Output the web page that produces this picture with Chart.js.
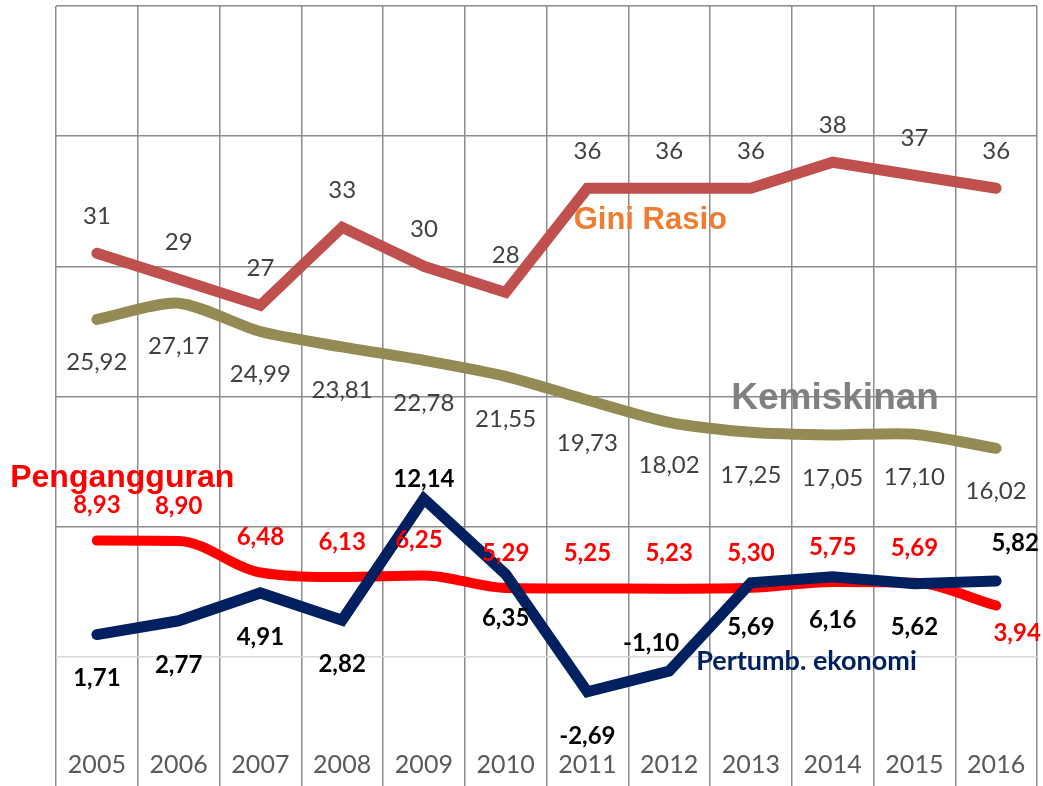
<!DOCTYPE html>
<html>
<head>
<meta charset="utf-8">
<script src="https://cdn.jsdelivr.net/npm/chart.js@4.4.1/dist/chart.umd.min.js"></script>
<style>
html,body{margin:0;padding:0;background:#ffffff;overflow:hidden;}
#wrap{width:1043px;height:800px;position:relative;}
</style>
</head>
<body>
<div id="wrap"><canvas id="c" width="1043" height="800"></canvas></div>
<script>
// ---- data ----
const years = ['2005','2006','2007','2008','2009','2010','2011','2012','2013','2014','2015','2016'];
const giniRasio = [31, 29, 27, 33, 30, 28, 36, 36, 36, 38, 37, 36];
const kemiskinan = [25.92, 27.17, 24.99, 23.81, 22.78, 21.55, 19.73, 18.02, 17.25, 17.05, 17.10, 16.02];
const pengangguran = [8.93, 8.90, 6.48, 6.13, 6.25, 5.29, 5.25, 5.23, 5.30, 5.75, 5.69, 3.94];
const pertumbEkonomi = [1.71, 2.77, 4.91, 2.82, 12.14, 6.35, -2.69, -1.10, 5.69, 6.16, 5.62, 5.82];
const yTicks = [-10, 0, 10, 20, 30, 40, 50];
const seriesNames = ['Pertumb. ekonomi', 'Pengangguran', 'Kemiskinan', 'Gini Rasio'];

// ---- label styling (offsets in px from each point) ----
const fmt2 = v => v.toFixed(2).replace('.', ',');
const fmt0 = v => String(v);
const labelStyles = [
  { font: 'bold 24px Lato', color: '#000000', fmt: fmt2,
    dx: [0,0,0,0,0,0,0,-18,0,0,0,19],
    dy: [44,44,44,44,-20,44,44,-28,44,44,44,-38] },
  { font: 'bold 24px Lato', color: '#ff0000', fmt: fmt2,
    dx: [0,0,0,0,-5,0,0,0,0,0,0,21],
    dy: [-35,-35,-35,-35,-35,-35,-35,-35,-35,-35,-35,28] },
  { font: '24px Lato', color: '#404040', fmt: fmt2,
    dx: [0,0,0,0,0,0,0,0,0,0,0,0],
    dy: [43,43,43,43,43,43,43,43,43,43,43,43] },
  { font: '24px Lato', color: '#404040', fmt: fmt0,
    dx: [0,0,0,0,0,0,0,0,0,0,0,0],
    dy: [-37,-37,-37,-37,-37,-37,-37,-37,-37,-37,-37,-37] }
];
const nameStyles = [
  { font: 'bold 27px Lato', color: '#002060', x: 8.68, y: -0.33 },
  { font: 'bold 32px "Liberation Sans"', color: '#ff0000', x: 0.31, y: 13.75 },
  { font: 'bold 37px "Liberation Sans"', color: '#808080', x: 9.03, y: 19.8 },
  { font: 'bold 31px "Liberation Sans"', color: '#ED7D31', x: 6.77, y: 33.5 }
];

const labelPlugin = {
  id: 'customLabels',
  afterDatasetsDraw(chart) {
    const ctx = chart.ctx;
    const xs = chart.scales.x, ys = chart.scales.y;
    ctx.save();
    ctx.textAlign = 'center';
    ctx.textBaseline = 'middle';
    // category labels
    ctx.font = '25px Lato';
    ctx.fillStyle = '#595959';
    years.forEach((yr, i) => {
      ctx.fillText(yr, xs.getPixelForValue(i), ys.getPixelForValue(-8.33));
    });
    // series names
    nameStyles.forEach((s, i) => {
      ctx.font = s.font;
      ctx.fillStyle = s.color;
      ctx.fillText(seriesNames[i], xs.getPixelForValue(s.x), ys.getPixelForValue(s.y));
    });
    // data labels
    chart.data.datasets.forEach((ds, di) => {
      const L = labelStyles[di];
      ctx.font = L.font;
      ctx.fillStyle = L.color;
      ds.data.forEach((v, i) => {
        const x = xs.getPixelForValue(i) + L.dx[i];
        const y = ys.getPixelForValue(v) + L.dy[i];
        ctx.fillText(L.fmt(v), x, y);
      });
    });
    ctx.restore();
  }
};

const common = { pointRadius: 0, pointHoverRadius: 0, borderCapStyle: 'round', fill: false, clip: false };

new Chart(document.getElementById('c'), {
  type: 'line',
  data: {
    labels: years,
    datasets: [
      Object.assign({}, common, { label: seriesNames[0], data: pertumbEkonomi, borderColor: '#002060', borderWidth: 11, tension: 0, borderJoinStyle: 'miter', order: 0 }),
      Object.assign({}, common, { label: seriesNames[1], data: pengangguran, borderColor: '#ff0000', borderWidth: 10, tension: 0.25, cubicInterpolationMode: 'monotone', borderJoinStyle: 'round', order: 1 }),
      Object.assign({}, common, { label: seriesNames[2], data: kemiskinan, borderColor: '#948A54', borderWidth: 11, tension: 0.25, borderJoinStyle: 'round', order: 2 }),
      Object.assign({}, common, { label: seriesNames[3], data: giniRasio, borderColor: '#C0504D', borderWidth: 11, tension: 0, borderJoinStyle: 'miter', order: 3 })
    ]
  },
  options: {
    responsive: false,
    animation: false,
    devicePixelRatio: 1,
    layout: { padding: { left: 56, right: 6, top: 6, bottom: 13 } },
    plugins: { legend: { display: false }, tooltip: { enabled: false } },
    scales: {
      x: {
        offset: true,
        grid: { offset: true, color: '#8c8c8c', lineWidth: 1.5, drawTicks: false },
        ticks: { display: false },
        border: { display: false }
      },
      y: {
        min: -10, max: 50,
        afterBuildTicks: s => { s.ticks = yTicks.map(v => ({ value: v })); },
        grid: { color: c => (c.tick && c.tick.value === 0) ? '#d9d9d9' : '#8c8c8c', lineWidth: 1.5, drawTicks: false },
        ticks: { display: false },
        border: { display: false }
      }
    }
  },
  plugins: [labelPlugin]
});
</script>
</body>
</html>
